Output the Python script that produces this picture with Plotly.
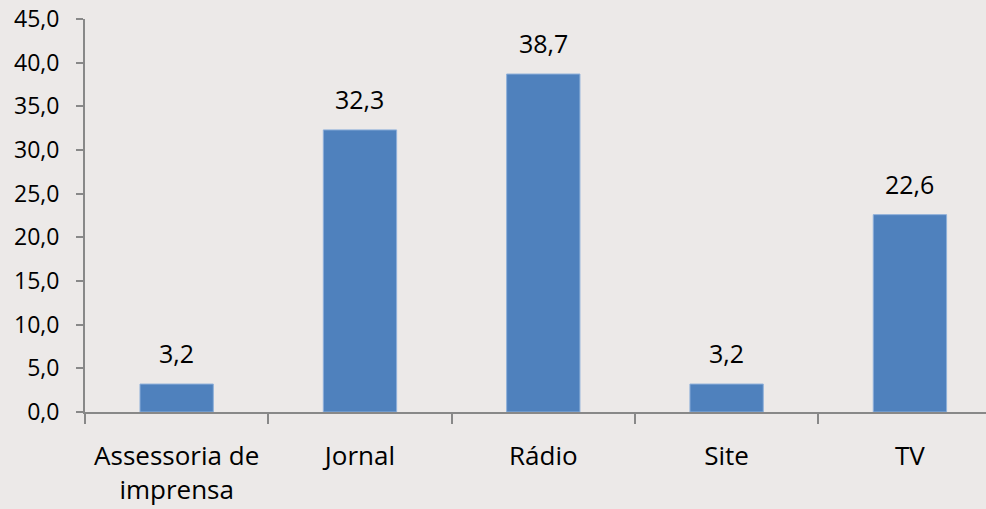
import plotly.graph_objects as go

categories = ["Assessoria de<br>imprensa", "Jornal", "Rádio", "Site", "TV"]
values = [3.2, 32.3, 38.7, 3.2, 22.6]
y_ticks = [0, 5, 10, 15, 20, 25, 30, 35, 40, 45]
y_tick_labels = ["0,0", "5,0", "10,0", "15,0", "20,0", "25,0", "30,0", "35,0", "40,0", "45,0"]
value_labels = ["3,2", "32,3", "38,7", "3,2", "22,6"]

BG = "#ECE9E8"
AXIS = "#888888"
FONT = "Open Sans"

fig = go.Figure()
fig.add_trace(go.Bar(
    x=categories, y=values, width=0.4,
    marker=dict(color="#4F81BD", line=dict(color="#8FB0DA", width=1)),
    hoverinfo="skip",
))

for c, v, t in zip(categories, values, value_labels):
    fig.add_annotation(x=c, y=v, text=t, showarrow=False, yanchor="bottom",
                       yshift=12, font=dict(family=FONT, size=25, color="#000000"))

fig.update_layout(
    width=986, height=509,
    margin=dict(l=85, r=0, t=19, b=97),
    paper_bgcolor=BG, plot_bgcolor=BG,
    showlegend=False,
    font=dict(family=FONT, size=23, color="#000000"),
)
fig.update_xaxes(
    type="category", range=[-0.5, 4.415],
    showline=True, linecolor=AXIS, linewidth=2,
    ticks="outside", tickson="boundaries", ticklen=10, tickwidth=2, tickcolor=AXIS,
    showgrid=False, ticklabelstandoff=20,
    tickfont=dict(family=FONT, size=26, color="#000000"),
)
fig.update_yaxes(
    range=[0, 45], tickvals=y_ticks, ticktext=y_tick_labels,
    showline=True, linecolor=AXIS, linewidth=2,
    ticks="outside", ticklen=7, tickwidth=2, tickcolor=AXIS,
    showgrid=False, zeroline=False, ticklabelstandoff=12,
    tickfont=dict(family=FONT, size=23, color="#000000"),
)

fig.write_html(
    "out.html",
    config={"displayModeBar": False},
    post_script="document.body.style.margin='0';document.body.style.background='" + BG + "';",
)
